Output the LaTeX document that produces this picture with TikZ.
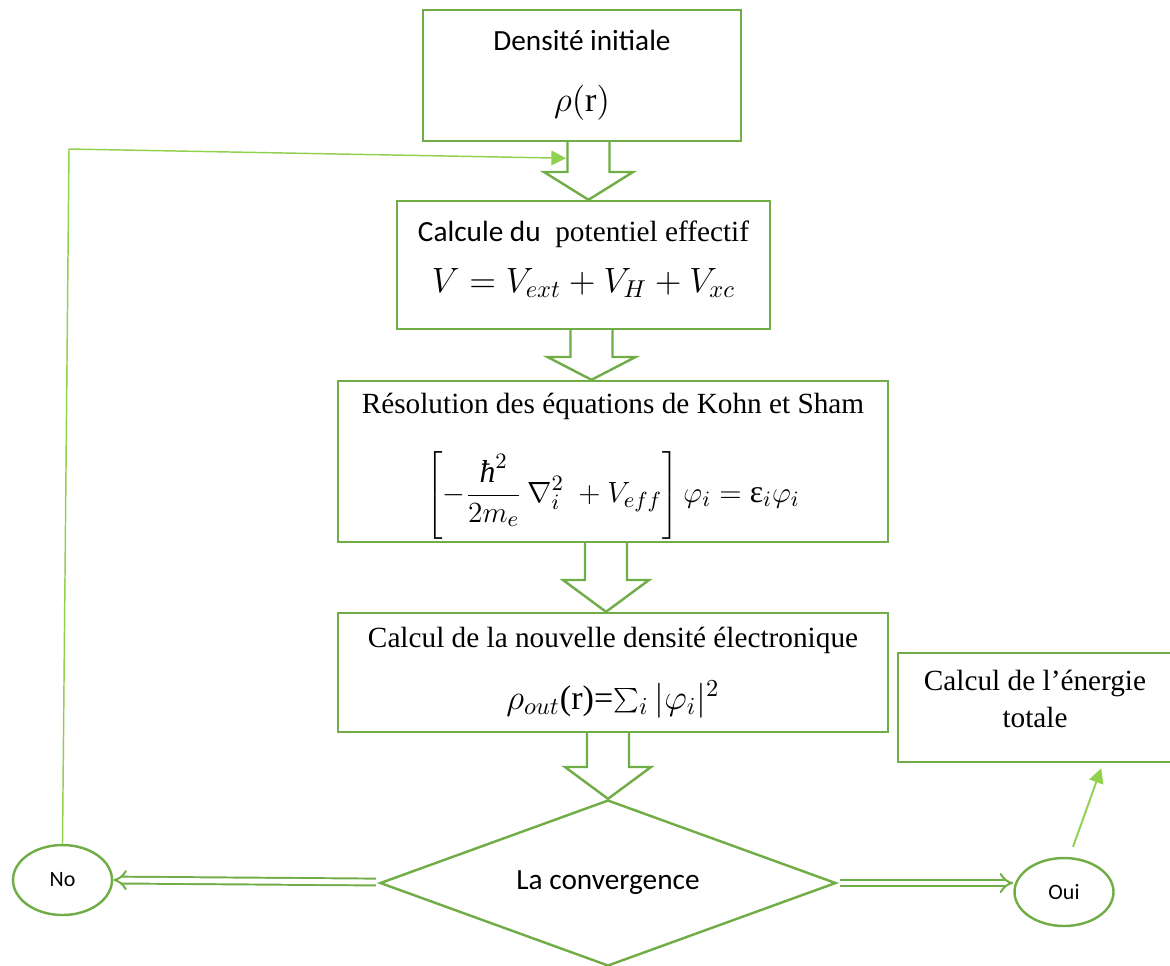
\documentclass[tikz,border=0pt]{standalone}
\usepackage{fontspec}
\setmainfont{Liberation Serif}
\newfontfamily\calibri{Carlito}
\usetikzlibrary{shapes.geometric,arrows.meta,calc}
\definecolor{boxgreen}{RGB}{112,173,71}
\definecolor{lightgreen}{RGB}{146,208,80}
\newdimen\pxu
\pxu=0.41pt
% hollow block arrow: from node, to node, centre x, y where the head starts, head half width
\newcommand{\bigarrow}[5]{%
  \draw[hollow] (#3-21,0 |- #1.south) -- (#3-21,#4) -- (#3-#5,#4) -- (#3,0 |- #2.north)
    -- (#3+#5,#4) -- (#3+21,#4) -- (#3+21,0 |- #1.south);}

\begin{document}
\begin{tikzpicture}[x=1\pxu,y=-1\pxu,
    box/.style={draw=boxgreen,line width=1pt,rectangle,inner sep=2pt,align=center,
                font=\fontsize{12}{14}\selectfont},
    oval/.style={draw=boxgreen,line width=1pt,ellipse,inner sep=0pt,
                 minimum width=99\pxu,font=\calibri\fontsize{9}{11}\selectfont},
    hollow/.style={draw=boxgreen,line width=1pt,line join=miter},
    dbl/.style={draw=boxgreen,line width=0.8pt,double,double distance=2pt,-{Implies}},
    lite/.style={draw=lightgreen,line width=0.7pt,-{Triangle[length=6pt,width=6pt]}}]
  \useasboundingbox (0,0) rectangle (1170,965);

  \node[box,minimum width=318\pxu,minimum height=131\pxu] (dens) at (582,75.5)
    {{\calibri Densité initiale}\\[11pt]{\fontsize{14}{17}\selectfont$\rho(\mathrm{r})$}};
  \node[box,minimum width=373\pxu,minimum height=128\pxu] (pot) at (583.5,265)
    {{\calibri Calcule du}\ \ potentiel effectif\\[7pt]{\fontsize{14}{17}\selectfont$V=V_{ext}+V_H+V_{xc}$}\\[-7pt]};
  \node[box,inner sep=0pt,minimum width=550\pxu,minimum height=161\pxu] (ks) at (613,461.5)
    {\rule{0pt}{12pt}Résolution des équations de Kohn et Sham\\[12pt]{\fontsize{13}{16}\selectfont
     $\displaystyle\left[-\frac{\mbox{\itshape ħ}^2}{2m_e}\,\nabla_i^2\ +V_{eff}\right]\varphi_i=\mbox{ε}_i\varphi_i$}};
  \node[box,minimum width=550\pxu,minimum height=119\pxu] (newdens) at (613,672.5)
    {Calcul de la nouvelle densité électronique\\[10pt]{\fontsize{14}{17}\selectfont$\rho_{out}$(r)=$\sum_i|\varphi_i|^2$}};
  \node[box,minimum width=274\pxu,minimum height=109\pxu] (energy) at (1035,707.5)
    {Calcul de l’énergie\\[1pt]totale\\[-7pt]};
  \node[draw=boxgreen,line width=1pt,diamond,aspect=2.75,inner sep=0pt,minimum width=456\pxu,
        minimum height=166\pxu,font=\calibri\fontsize{12}{14}\selectfont] (conv) at (608,883)
    {La convergence};
  \node[oval,minimum height=70\pxu] (no) at (62.5,880) {No};
  \node[oval,minimum height=68\pxu] (oui) at (1064,892) {Oui};

  \bigarrow{dens}{pot}{588.5}{172}{44.5}
  \bigarrow{pot}{ks}{591.5}{357}{44}
  \bigarrow{ks}{newdens}{606}{580}{43}
  \bigarrow{newdens}{conv}{608}{767}{43}

  \coordinate (turn) at (69,149);
  \coordinate (reentry) at ($(dens.south)+(-16,16)$);
  \draw[lite,line width=0.6pt] (no.north) -- (turn) -- (reentry);
  \draw[dbl] ($(conv.west)+(-3,-1)$) -- (no.east);
  \draw[dbl] ($(conv.east)+(3,0)$) -- (conv.east -| oui.west);
  \draw[lite,line width=0.8pt] ($(oui.north)+(9,-10)$) -- ($(energy.south east)+(-72,5)$);
\end{tikzpicture}
\end{document}
